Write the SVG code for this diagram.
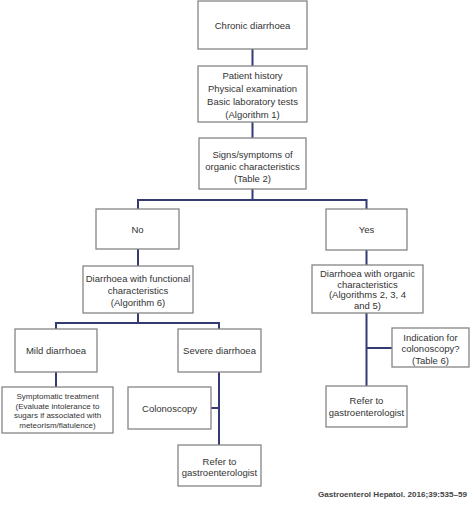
<svg xmlns="http://www.w3.org/2000/svg" width="474" height="505" viewBox="0 0 474 505">
<style>
.b{fill:#fff;stroke:#858585;stroke-width:1.3}
.t{font-family:"Liberation Sans",Arial,sans-serif;font-size:9.5px;fill:#333;text-anchor:middle}
.s{font-size:8px}
.c{fill:none;stroke:#343b73;stroke-width:2}
.f{font-family:"Liberation Sans",Arial,sans-serif;font-weight:bold;font-size:8.1px;fill:#444}
</style>
<rect width="474" height="505" fill="#fff"/>
<g id="connectors">
<path class="c" d="M252.5 49V66M252.5 122V138M252.5 189V200M138 200H366.5M138 199V209M366.5 199V209M138 249V266M366.5 250V265M138 313V323M56 323H219M56 322V329M219 322V329M56 372V387M219 372V445M211 408H219M366.5 313V386M366.5 348H392"/>
</g>
<g id="chronic"><rect class="b" x="198" y="1" width="109" height="48"/><text class="t" x="252.5" y="29">Chronic diarrhoea</text></g>
<g id="history"><rect class="b" x="198" y="66" width="109" height="56"/>
<text class="t" x="252.5" y="79">Patient history</text><text class="t" x="252.5" y="92">Physical examination</text><text class="t" x="252.5" y="105">Basic laboratory tests</text><text class="t" x="252.5" y="118">(Algorithm 1)</text></g>
<g id="signs"><rect class="b" x="199" y="138" width="107" height="51"/>
<text class="t" x="252.5" y="158">Signs/symptoms of</text><text class="t" x="252.5" y="170">organic characteristics</text><text class="t" x="252.5" y="182">(Table 2)</text></g>
<g id="no"><rect class="b" x="96" y="209" width="83" height="40"/><text class="t" x="137.5" y="232.5">No</text></g>
<g id="yes"><rect class="b" x="326" y="209" width="81" height="41"/><text class="t" x="366.5" y="232.5">Yes</text></g>
<g id="functional"><rect class="b" x="83" y="266" width="110" height="47"/>
<text class="t" x="138" y="281.5">Diarrhoea with functional</text><text class="t" x="138" y="293.5">characteristics</text><text class="t" x="138" y="305.5">(Algorithm 6)</text></g>
<g id="organic"><rect class="b" x="312" y="265" width="111" height="48"/>
<text class="t" x="367.5" y="277">Diarrhoea with organic</text><text class="t" x="367.5" y="287.5">characteristics</text><text class="t" x="367.5" y="298">(Algorithms 2, 3, 4</text><text class="t" x="367.5" y="308.5">and 5)</text></g>
<g id="mild"><rect class="b" x="15" y="329" width="82" height="43"/><text class="t" x="56" y="354">Mild diarrhoea</text></g>
<g id="severe"><rect class="b" x="178" y="329" width="83" height="43"/><text class="t" x="219.5" y="354">Severe diarrhoea</text></g>
<g id="symptomatic"><rect class="b" x="2" y="387" width="111" height="46"/>
<text class="t s" x="57.5" y="399">Symptomatic treatment</text><text class="t s" x="57.5" y="408.5">(Evaluate intolerance to</text><text class="t s" x="57.5" y="418">sugars if associated with</text><text class="t s" x="57.5" y="427.5">meteorism/flatulence)</text></g>
<g id="colonoscopy"><rect class="b" x="128" y="387" width="83" height="42"/><text class="t" x="169.5" y="411.5">Colonoscopy</text></g>
<g id="refer-left"><rect class="b" x="178" y="445" width="83" height="41"/>
<text class="t" x="219.5" y="464.5">Refer to</text><text class="t" x="219.5" y="476">gastroenterologist</text></g>
<g id="indication"><rect class="b" x="392" y="328" width="77" height="39"/>
<text class="t" x="430.5" y="340.5">Indication for</text><text class="t" x="430.5" y="352">colonoscopy?</text><text class="t" x="430.5" y="363.5">(Table 6)</text></g>
<g id="refer-right"><rect class="b" x="326" y="386" width="81" height="41"/>
<text class="t" x="366.5" y="403.5">Refer to</text><text class="t" x="366.5" y="415.5">gastroenterologist</text></g>
<text class="f" x="318" y="497">Gastroenterol Hepatol. 2016;39:535–59</text>
</svg>
